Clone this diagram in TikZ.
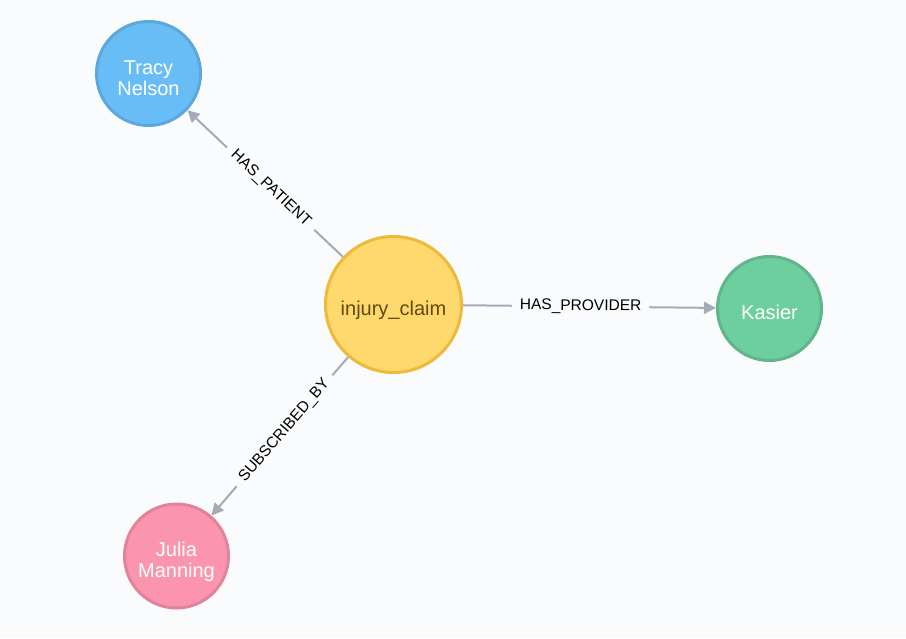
\documentclass[tikz,border=0pt]{standalone}
\usepackage{fontspec}
\setmainfont{Liberation Sans}
\usetikzlibrary{arrows.meta}
\definecolor{bg}{HTML}{F9FBFD}
\definecolor{edgec}{HTML}{A5ABB6}
\definecolor{bluefill}{HTML}{68BDF6}
\definecolor{blueline}{HTML}{5CA8DB}
\definecolor{yelfill}{HTML}{FFD86E}
\definecolor{yelline}{HTML}{EDBA39}
\definecolor{yeltext}{HTML}{604A0E}
\definecolor{grnfill}{HTML}{6DCE9E}
\definecolor{grnline}{HTML}{60B58B}
\definecolor{pnkfill}{HTML}{FB95AF}
\definecolor{pnkline}{HTML}{E0849B}
\newcommand{\nlbl}[1]{\raisebox{0pt}[\dimexpr\height+14pt\relax][\depth]{\begin{tabular}{@{}c@{}}#1\end{tabular}}}
\tikzset{
  gnode/.style={circle, line width=3pt, minimum size=104pt, inner sep=0pt, align=center,
    font=\fontsize{20}{21}\selectfont, text=white},
  bignode/.style={minimum size=136pt},
  rel/.style={draw=edgec, line width=2pt, -{Triangle[length=12pt,width=12pt]}},
  rlabel/.style={sloped, pos=0.465, fill=bg, inner xsep=8pt, inner ysep=3pt,
    font=\fontsize{15.5}{15.5}\selectfont, text=black}
}
\begin{document}
\begin{tikzpicture}[x=1pt,y=-1pt]
\fill[bg] (0,0) rectangle (906,638);
\useasboundingbox (0,0) rectangle (906,638);
\node[gnode, fill=bluefill, draw=blueline] (tracy) at (148.5,73.5) {\nlbl{Tracy\\Nelson}};
\node[gnode, bignode, fill=yelfill, draw=yelline, text=yeltext] (claim) at (393.5,304.5) {\nlbl{injury\_claim}};
\node[gnode, fill=grnfill, draw=grnline] (kasier) at (769.5,308.5) {\nlbl{Kasier}};
\node[gnode, fill=pnkfill, draw=pnkline] (julia) at (176.5,556) {\nlbl{Julia\\Manning}};
\draw[rel] (claim) -- node[rlabel] {HAS\_PATIENT} (tracy);
\draw[rel] (claim) -- node[rlabel] {HAS\_PROVIDER} (kasier);
\draw[rel] (claim) -- node[rlabel] {SUBSCRIBED\_BY} (julia);
\end{tikzpicture}
\end{document}
